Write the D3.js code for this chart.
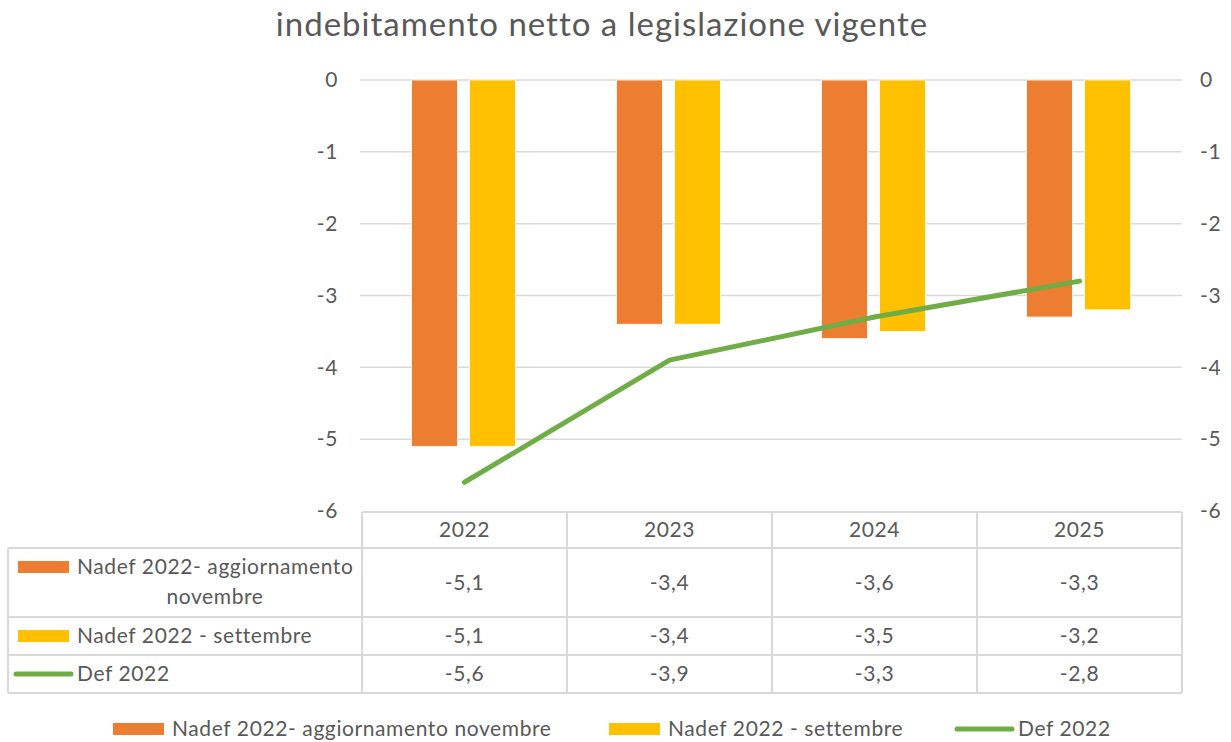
<!DOCTYPE html>
<html>
<head>
<meta charset="utf-8">
<script src="https://cdn.jsdelivr.net/npm/d3@7"></script>
<style>
  body { margin: 0; background: #fff; }
  svg text { font-family: Lato, "Liberation Sans", sans-serif; fill: #595959; letter-spacing: 0.6px; }
</style>
</head>
<body>
<svg width="1231" height="742"></svg>
<script>
// data
var years = ["2022", "2023", "2024", "2025"];
var nadefNov = [-5.1, -3.4, -3.6, -3.3];
var nadefSet = [-5.1, -3.4, -3.5, -3.2];
var def2022 = [-5.6, -3.9, -3.3, -2.8];
var yTicks = [0, -1, -2, -3, -4, -5, -6];
var seriesNames = ["Nadef 2022- aggiornamento novembre", "Nadef 2022 - settembre", "Def 2022"];
var colors = ["#ED7D31", "#FFC000", "#70AD47"];
var title = "indebitamento netto a legislazione vigente";

var loc = d3.formatLocale({decimal: ",", thousands: ".", grouping: [3], currency: ["", "€"], minus: "-"});
var fmt = loc.format(".1f"), fmtTick = loc.format("d");

var svg = d3.select("svg");
var grid = "#D9D9D9";

var x = d3.scaleBand().domain(years).range([362, 1182]);
var y = d3.scaleLinear().domain([-6, 0]).range([511, 80]);
var xs = d3.scaleBand().domain([0, 1])
	.range([x.bandwidth() / 2 - 53, x.bandwidth() / 2 + 51]).paddingInner(0.207);

// title
svg.append("text").attr("x", 602).attr("y", 36).attr("text-anchor", "middle")
	.style("font-size", "33px").style("letter-spacing", "1px").text(title);

// gridlines
svg.append("g").selectAll("line").data(yTicks.slice(0, 6)).join("line")
	.attr("x1", 360).attr("x2", 1182)
	.attr("y1", d => y(d)).attr("y2", d => y(d))
	.attr("stroke", grid).attr("stroke-width", 1.5);

// axes (labels only)
var left = svg.append("g").attr("transform", "translate(362,0)")
	.call(d3.axisLeft(y).tickValues(yTicks).tickFormat(fmtTick).tickSize(0).tickPadding(24));
var right = svg.append("g").attr("transform", "translate(1182,0)")
	.call(d3.axisRight(y).tickValues(yTicks).tickFormat(fmtTick).tickSize(0).tickPadding(18));
[left, right].forEach(function(g) {
	g.select(".domain").remove();
	g.selectAll("text").style("font-size", "21px").attr("fill", "#595959")
		.style("font-family", "Lato, sans-serif");
});

// bars
[nadefNov, nadefSet].forEach(function(vals, i) {
	svg.append("g").selectAll("rect").data(vals).join("rect")
		.attr("x", (d, j) => x(years[j]) + xs(i))
		.attr("width", xs.bandwidth())
		.attr("y", y(0))
		.attr("height", d => y(d) - y(0))
		.attr("fill", colors[i])
		.attr("stroke", "#fff").attr("stroke-width", 0.8);
});

// line
var line = d3.line()
	.x((d, j) => x(years[j]) + x.bandwidth() / 2)
	.y(d => y(d));
svg.append("path").datum(def2022).attr("d", line)
	.attr("fill", "none").attr("stroke", colors[2]).attr("stroke-width", 5)
	.attr("stroke-linecap", "round").attr("stroke-linejoin", "round");

// data table
var rowY = [512, 548, 617, 655, 693];
var tbl = svg.append("g").attr("stroke", grid).attr("stroke-width", 2).attr("fill", "none");
// header row horizontal lines span plot columns only
tbl.append("line").attr("x1", 362).attr("x2", 1182).attr("y1", rowY[0]).attr("y2", rowY[0]);
rowY.slice(1).forEach(function(ry) {
	tbl.append("line").attr("x1", 8).attr("x2", 1182).attr("y1", ry).attr("y2", ry);
});
tbl.append("line").attr("x1", 8).attr("x2", 8).attr("y1", rowY[1]).attr("y2", rowY[4]);
x.domain().forEach(function(yr) {
	tbl.append("line").attr("x1", x(yr)).attr("x2", x(yr)).attr("y1", rowY[0]).attr("y2", rowY[4]);
});
tbl.append("line").attr("x1", 1182).attr("x2", 1182).attr("y1", rowY[0]).attr("y2", rowY[4]);

// header years
svg.append("g").selectAll("text").data(years).join("text")
	.attr("x", d => x(d) + x.bandwidth() / 2).attr("y", (rowY[0] + rowY[1]) / 2)
	.attr("dy", "0.35em").attr("text-anchor", "middle").style("font-size", "21px").text(d => d);

// values
var rows = [nadefNov, nadefSet, def2022];
rows.forEach(function(vals, i) {
	svg.append("g").selectAll("text").data(vals).join("text")
		.attr("x", (d, j) => x(years[j]) + x.bandwidth() / 2)
		.attr("y", (rowY[i + 1] + rowY[i + 2]) / 2)
		.attr("dy", "0.35em").attr("text-anchor", "middle").style("font-size", "21px")
		.text(d => fmt(d));
});

// row labels with keys
function key(g, i, kx, ky) {
	if (i < 2) {
		g.append("rect").attr("x", kx).attr("y", ky - 6).attr("width", 51).attr("height", 12)
			.attr("fill", colors[i]);
	} else {
		g.append("line").attr("x1", kx - 1).attr("x2", kx + 54).attr("y1", ky).attr("y2", ky)
			.attr("stroke", colors[i]).attr("stroke-width", 5).attr("stroke-linecap", "round");
	}
}
var lab = svg.append("g");
key(lab, 0, 18, 567);
lab.append("text").attr("x", 77).attr("y", 567).attr("dy", "0.35em").style("font-size", "21px")
	.text("Nadef 2022- aggiornamento");
lab.append("text").attr("x", 215).attr("y", 597).attr("dy", "0.35em").attr("text-anchor", "middle")
	.style("font-size", "21px").text("novembre");
key(lab, 1, 18, 636);
lab.append("text").attr("x", 77).attr("y", 636).attr("dy", "0.35em").style("font-size", "21px")
	.text(seriesNames[1]);
key(lab, 2, 17, 674);
lab.append("text").attr("x", 77).attr("y", 674).attr("dy", "0.35em").style("font-size", "21px")
	.text(seriesNames[2]);

// bottom legend
var legX = [113, 609, 958];
var leg = svg.append("g");
seriesNames.forEach(function(name, i) {
	key(leg, i, legX[i], 729);
	leg.append("text").attr("x", legX[i] + (i < 2 ? 59 : 60)).attr("y", 729).attr("dy", "0.35em")
		.style("font-size", "21px").text(name);
});
</script>
</body>
</html>
